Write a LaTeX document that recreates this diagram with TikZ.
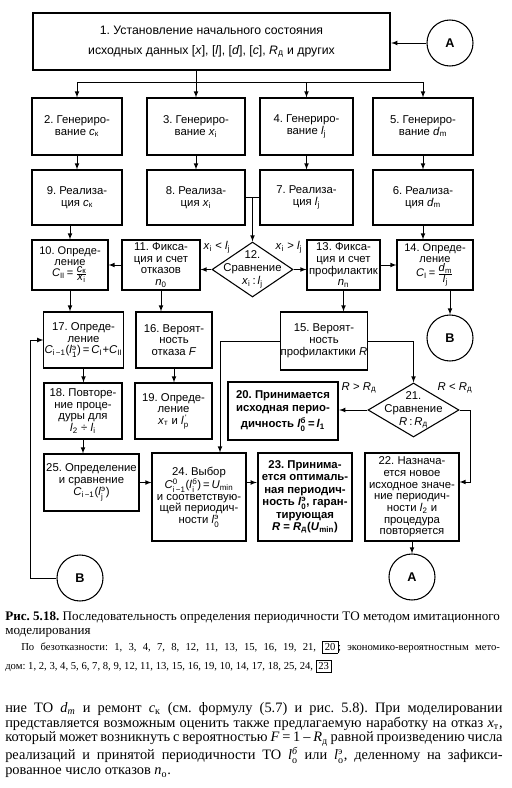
\documentclass[tikz,border=0pt]{standalone}
\usepackage{amsmath}
\usepackage{fontspec}
\setmainfont{Liberation Serif}
\newfontfamily\dsf{Liberation Sans}
\usepackage{tikz}
\usetikzlibrary{shapes.geometric,calc}
\frenchspacing

\newcommand{\vi}[2]{\textit{#1}\textsubscript{#2}}
\newcommand{\vis}[3]{\textit{#1}$^{\text{#3}}_{\text{#2}}$}
\newcommand{\fr}[2]{$\frac{\hbox{#1}}{\hbox{#2}}$}

\begin{document}
\begin{tikzpicture}[x=0.75pt,y=0.75pt,yscale=-1,xscale=1,>=latex,
	blk/.style 2 args={draw,line width=0.8pt,minimum width=#1*0.75pt,minimum height=#2*0.75pt,inner sep=0.5pt,align=center,font=\dsf\fontsize{8.5}{8.8}\selectfont},
	bblk/.style 2 args={blk={#1}{#2},line width=1.8pt,font=\dsf\bfseries\fontsize{8.5}{9.3}\selectfont},
	dia/.style 2 args={draw,diamond,line width=0.8pt,minimum width=#1*0.75pt,minimum height=#2*0.75pt,inner sep=0pt},
	dtxt/.style={inner sep=0pt,align=center,font=\dsf\fontsize{8.5}{9.8}\selectfont},
	lbl/.style={inner sep=0.75pt,font=\dsf\fontsize{8.5}{9}\selectfont},
	circ/.style={draw,circle,line width=0.8pt,minimum size=46*0.75pt,inner sep=0pt,font=\dsf\bfseries\fontsize{9.5}{10}\selectfont},
	conn/.style={->,line width=0.6pt},
	para/.style={anchor=west,inner sep=0pt,font=\fontsize{10.8}{12}\selectfont}]
	\useasboundingbox (0,0) rectangle (511,788);
	
	%Shape: Rectangle 
	\node[bblk={357}{57},font=\dsf\fontsize{9.2}{15}\selectfont] (b1) at (211.5,41.5) {1. Установление начального состояния\\исходных данных [\textit{x}], [\textit{l}], [\textit{d}], [\textit{c}], \vi{R}{д} и других};
	%Shape: Circle 
	\node[circ] (A1) at (450,43) {А};
	
	%Shape: Rectangle 
	\node[blk={90}{57}] (b2) at (77,126.5) {2. Генериро-\\вание \vi{c}{к}};
	\node[blk={98}{57}] (b3) at (196,126.5) {3. Генериро-\\вание \vi{x}{i}};
	\node[blk={93}{57}] (b4) at (306.5,126.5) {4. Генериро-\\вание \vi{l}{j}};
	\node[blk={100}{57}] (b5) at (423,126.5) {5. Генериро-\\вание \vi{d}{m}};
	
	\node[blk={90}{55}] (b9) at (77,197.5) {9. Реализа-\\ция \vi{c}{к}};
	\node[blk={98}{55}] (b8) at (196,197.5) {8. Реализа-\\ция \vi{x}{i}};
	\node[blk={93}{55}] (b7) at (306.5,197.5) {7. Реализа-\\ция \vi{l}{j}};
	\node[blk={100}{55}] (b6) at (423,197.5) {6. Реализа-\\ция \vi{d}{m}};
	
	\node[blk={76}{50},inner sep=0pt,font=\dsf\fontsize{8.3}{8.2}\selectfont] (b10) at (70,265) {10. Опреде-\\ление\\\vi{C}{II}\,=\,\fr{\vi{c}{к}}{\vi{x}{i}}};
	\node[blk={78}{50}] (b11) at (161,265) {11. Фикса-\\ция и счет\\отказов\\\vi{n}{0}};
	%Shape: Diamond 
	\node[dia={81}{55}] (d12) at (252.5,269.5) {};
	\node[dtxt] (d12t) at (d12) {12.\\Сравнение\\\vi{x}{i}\,:\,\vi{l}{j}};
	\node[blk={73}{50}] (b13) at (343.5,265) {13. Фикса-\\ция и счет\\профилактик\\\vi{n}{п}};
	\node[blk={76}{50},inner sep=0pt,font=\dsf\fontsize{8.3}{8.2}\selectfont] (b14) at (435,265) {14. Опреде-\\ление\\\vi{C}{I}\,=\,\fr{\vi{d}{m}}{\vi{l}{j}}};
	
	\node[blk={77}{56}] (b17) at (83.5,340) {17. Опреде-\\ление\\\vi{C}{i\,−1}(\vis{l}{1}{э})\,=\,\vi{C}{I}+\vi{C}{II}};
	\node[blk={76}{56}] (b16) at (174,340) {16. Вероят-\\ность\\отказа \textit{F}};
	\node[blk={82}{58}] (b15) at (324,341) {15. Вероят-\\ность\\профилактики \textit{R}};
	\node[circ] (B1) at (450,338) {В};
	
	\node[blk={78}{56}] (b18) at (83,411) {18. Повторе-\\ние проце-\\дуры для\\\vi{l}{2} ÷ \vi{l}{i}};
	\node[blk={77}{56}] (b19) at (173.5,411) {19. Опреде-\\ление\\\vi{x}{т} и \vis{l}{р}{\,'}};
	\node[bblk={110}{58}] (b20) at (283,411) {20. Принимается\\исходная перио-\\[3pt]дичность \vis{l}{0}{б}\,=\,\vi{l}{1}};
	\node[dia={91}{54}] (d21) at (413.5,410) {};
	\node[dtxt] (d21t) at (d21) {21.\\Сравнение\\\textit{R}\,:\,\vi{R}{д}};
	
	\node[blk={95}{57}] (b25) at (91.5,482.5) {25. Определение\\и сравнение\\\vi{C}{i\,−1}(\vis{l}{j}{э})};
	\node[blk={94}{88}] (b24) at (199,497) {24. Выбор\\\vis{C}{i\,−1}{0}(\vis{l}{i}{б})\,=\,\vi{U}{min}\\и соответствую-\\щей периодич-\\ности \vis{l}{0}{э}};
	\node[bblk={94}{88}] (b23) at (305,497) {23. Принима-\\ется оптималь-\\ная периодич-\\ность \vis{l}{0}{э}, гаран-\\тирующая\\\textit{R} = \vi{R}{д}(\vi{U}{min})};
	\node[blk={94}{88}] (b22) at (412,497) {22. Назнача-\\ется новое\\исходное значе-\\ние периодич-\\ности \vi{l}{2} и\\процедура\\повторяется};
	
	\node[circ] (A2) at (412,577) {А};
	\node[circ] (B2) at (80,578) {В};
	
	% Text Node
	\node[lbl] (l12a) at (217,247) {\vi{x}{i} < \vi{l}{j}};
	\node[lbl] (l12b) at (289,247) {\vi{x}{i} > \vi{l}{j}};
	\node[lbl] (l21a) at (359,388) {\textit{R} > \vi{R}{д}};
	\node[lbl] (l21b) at (455,388) {\textit{R} < \vi{R}{д}};
	
	%Straight Lines 
	\coordinate (tr) at (196,82);
	\draw[line width=0.6pt] (b1.south -| tr) -- (tr);
	\draw[conn] (tr) -| (b2.north);
	\draw[conn] (tr) -- (b3.north);
	\draw[conn] (tr) -| (b4.north);
	\draw[conn] (tr) -| (b5.north);
	\draw[conn] (A1.west) -- (A1.west -| b1.east);
	\foreach \a/\b in {b2/b9,b3/b8,b4/b7,b5/b6}
		\draw[conn] (\a) -- (\b);
	\draw[line width=0.6pt] (b8) -- (b7);
	\draw[conn] (d12.north |- b8.east) -- (d12.north);
	\draw[conn] (b10.north |- b9.south) -- (b10.north);
	\draw[conn] (b6.south) -- (b6.south |- b14.north);
	\draw[conn] (d12.west) -- (d12.west -| b11.east);
	\draw[conn] (d12.east) -- (d12.east -| b13.west);
	\draw[conn] (b11) -- (b10);
	\draw[conn] (b13) -- (b14);
	
	\draw[conn] (b10.south) -- (b10.south |- b17.north);
	\draw[conn] (b11.south) -- (b11.south |- b16.north);
	\draw[conn] (b13.south) -- (b13.south |- b15.north);
	\draw[conn] (B1.north |- b14.south) -- (B1.north);
	\draw[conn] (b15.west) -| ($(b24.north)+(21,0)$);
	\draw[conn] (b15.east) -| (d21.north);
	
	\draw[conn] (b17.south) -- (b17.south |- b18.north);
	\draw[conn] (b16.south) -- (b16.south |- b19.north);
	\draw[conn] (d21.west) -- (d21.west -| b20.east);
	\draw[conn] (d21.east) -- ++(11,0) |- ($(b22.east)+(0,-15)$);
	\draw[conn] (b18.south) -- (b18.south |- b25.north);
	\draw[conn] (b25.east) -- (b25.east -| b24.west);
	\draw[conn] (b24.east |- b25.east) -- (b23.west |- b25.east);
	\draw[conn] (b22) -- (A2);
	\draw[conn] (B2.west) -- ++(-26,0) |- (b17.west);
	
	% Text Node
	\node[para,font=\fontsize{9.8}{12}\selectfont] (cap1) at (5,618) {\makebox[371pt][s]{\textbf{Рис. 5.18.} Последовательность определения периодичности ТО методом имитационного}};
	\node[para,font=\fontsize{9.8}{12}\selectfont] (cap2) at (5,633) {моделирования};
	\node[para,font=\fontsize{8}{10}\selectfont] (nt1) at (21,647) {\setlength{\fboxsep}{1.5pt}\makebox[359pt][s]{По безотказности: 1, 3, 4, 7, 8, 12, 11, 13, 15, 16, 19, 21, \fbox{20}; экономико-вероятностным мето-}};
	\node[para,font=\fontsize{8}{10}\selectfont] (nt2) at (5,666) {\setlength{\fboxsep}{1.5pt}дом: 1, 2, 3, 4, 5, 6, 7, 8, 9, 12, 11, 13, 15, 16, 19, 10, 14, 17, 18, 25, 24, \fbox{23}};
	\node[para] (tx1) at (5,709) {\makebox[373pt][s]{ние ТО \textit{d}\textsubscript{\textit{m}} и ремонт \textit{c}\textsubscript{к} (см. формулу (5.7) и рис. 5.8). При моделировании}};
	\node[para] (tx2) at (5,724) {\makebox[373pt][s]{представляется возможным оценить также предлагаемую наработку на отказ \textit{x}\textsubscript{т},}};
	\node[para] (tx3) at (5,739) {\makebox[373pt][s]{который может возникнуть с вероятностью \textit{F} = 1 – \textit{R}\textsubscript{д} равной произведению числа}};
	\node[para] (tx4) at (5,755) {\makebox[373pt][s]{реализаций и принятой периодичности ТО \textit{l}$^{\textit{б}}_{\text{о}}$ или \textit{l}$^{\text{э}}_{\text{о}}$, деленному на зафикси-}};
	\node[para] (tx5) at (5,773) {рованное число отказов \textit{n}\textsubscript{о}.};
	
\end{tikzpicture}
\end{document}
